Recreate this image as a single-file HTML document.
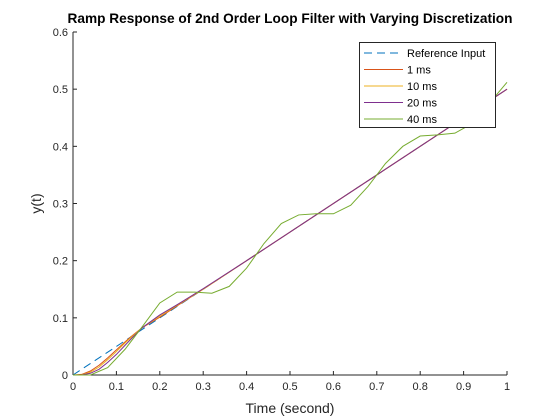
<!DOCTYPE html>
<html><head><meta charset="utf-8"><style>
body{margin:0;background:#fff}
svg{display:block;font-family:"Liberation Sans",Arial,sans-serif}
</style></head><body>
<svg id="chart" width="560" height="420" viewBox="0 0 560 420">
<rect width="560" height="420" fill="#fff"/>
<text x="290" y="23" text-anchor="middle" font-size="14" font-weight="bold" textLength="445" lengthAdjust="spacingAndGlyphs">Ramp Response of 2nd Order Loop Filter with Varying Discretization</text>
<g id="axes"></g>
<g id="series"></g>
<g id="legend"></g>
<text x="290" y="413" text-anchor="middle" font-size="14" fill="#262626">Time (second)</text>
<text transform="translate(41,203.5) rotate(-90)" text-anchor="middle" font-size="14" fill="#262626">y(t)</text>
</svg>
<script>
const xTicks=[0,0.1,0.2,0.3,0.4,0.5,0.6,0.7,0.8,0.9,1];
const xTickLabels=["0","0.1","0.2","0.3","0.4","0.5","0.6","0.7","0.8","0.9","1"];
const yTicks=[0,0.1,0.2,0.3,0.4,0.5,0.6];
const yTickLabels=["0","0.1","0.2","0.3","0.4","0.5","0.6"];
const refT=[0,1];
const refY=[0,0.5];
const t1=[0,0.02,0.04,0.06,0.08,0.1,0.12,0.14,0.16,0.2,0.24,0.3,0.4,1];
const y1=[0,0.001,0.007,0.017,0.03,0.044,0.058,0.071,0.083,0.101,0.121,0.15,0.2,0.5];
const t10=[0,0.02,0.04,0.06,0.08,0.1,0.12,0.14,0.16,0.2,0.24,0.3,0.4,1];
const y10=[0,0.0,0.005,0.014,0.027,0.041,0.056,0.07,0.083,0.103,0.122,0.15,0.2,0.5];
const t20=[0,0.02,0.04,0.06,0.08,0.1,0.12,0.14,0.16,0.2,0.24,0.3,0.4,1];
const y20=[0,0,0.003,0.01,0.022,0.036,0.052,0.068,0.083,0.105,0.123,0.151,0.2,0.5];
const t40=[0,0.04,0.08,0.12,0.16,0.2,0.24,0.28,0.32,0.36,0.4,0.44,0.48,0.52,0.56,0.6,0.64,0.68,0.72,0.76,0.8,0.84,0.88,0.92,0.96,1];
const y40=[0,0,0.013,0.045,0.085,0.126,0.145,0.145,0.143,0.155,0.187,0.23,0.265,0.28,0.282,0.282,0.297,0.33,0.37,0.40,0.418,0.42,0.423,0.44,0.476,0.512];
const seriesNames=["Reference Input","1 ms","10 ms","20 ms","40 ms"];
const NS="http://www.w3.org/2000/svg";
const X0=73,X1=507,Y0=375,Y1=32;
function sx(v){return X0+(X1-X0)*v;}
function sy(v){return Y0-(Y0-Y1)*v/0.6;}
function mk(tag,attrs,parent){const e=document.createElementNS(NS,tag);for(const k in attrs)e.setAttribute(k,attrs[k]);parent.appendChild(e);return e;}
const axes=document.getElementById('axes');
let a=mk('line',{x1:X0,y1:Y0,x2:X1,y2:Y0,stroke:'#262626','stroke-width':1},axes);


a=mk('line',{x1:X0,y1:Y0,x2:X0,y2:Y1,stroke:'#262626','stroke-width':1},axes);


xTicks.forEach((v,i)=>{
 const tk=mk('line',{x1:sx(v),y1:Y0,x2:sx(v),y2:Y0-4,stroke:'#262626'},axes);
 
 
 const tx=mk('text',{x:sx(v),y:Y0+15,'text-anchor':'middle','font-size':11,fill:'#262626'},axes);
 tx.textContent=xTickLabels[i];
 
 
});
yTicks.forEach((v,i)=>{
 const tk=mk('line',{x1:X0,y1:sy(v),x2:X0+4,y2:sy(v),stroke:'#262626'},axes);
 
 
 const tx=mk('text',{x:X0-5,y:sy(v)+4,'text-anchor':'end','font-size':11,fill:'#262626'},axes);
 tx.textContent=yTickLabels[i];
 
 
});
const sg=document.getElementById('series');
function line(ts,ys,color,dash,name){
 const p=mk('polyline',{points:ts.map((t,i)=>sx(t)+','+sy(ys[i])).join(' '),fill:'none',stroke:color,'stroke-width':1,'stroke-dasharray':dash||'none'},sg);
 
 
}
const colors=['#0072BD','#D95319','#EDB120','#7E2F8E','#77AC30'];
line(refT,refY,colors[0],'8,5','series-reference-input');
line(t1,y1,colors[1],null,'series-1ms');
line(t10,y10,colors[2],null,'series-10ms');
line(t20,y20,colors[3],null,'series-20ms');
line(t40,y40,colors[4],null,'series-40ms');
const lg=document.getElementById('legend');
const box=mk('rect',{x:359.5,y:42.5,width:136,height:85,fill:'#fff',stroke:'#262626'},lg);


seriesNames.forEach((n,i)=>{
 const y=53+i*16.5;
 const l=mk('line',{x1:364,y1:y,x2:403,y2:y,stroke:colors[i],'stroke-width':1,'stroke-dasharray':i===0?'8,5':'none'},lg);
 
 
 const tx=mk('text',{x:407,y:y+4,'font-size':11,fill:'#000'},lg);
 tx.textContent=n;
 
 
});
</script>
</body></html>
